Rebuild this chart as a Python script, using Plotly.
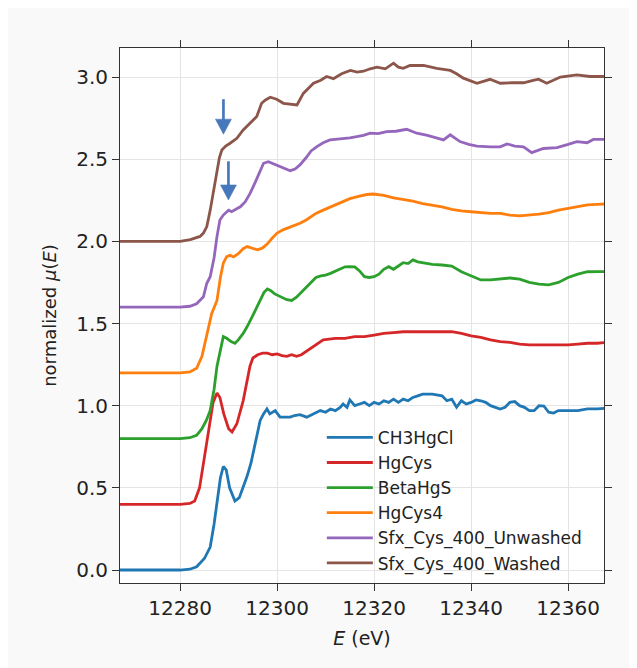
import plotly.graph_objects as go

# ---------------- data ----------------
names = ["CH3HgCl", "HgCys", "BetaHgS", "HgCys4", "Sfx_Cys_400_Unwashed", "Sfx_Cys_400_Washed"]
offsets = [0.0, 0.4, 0.8, 1.2, 1.6, 2.0]
colors = ["#1f77b4", "#d62728", "#2ca02c", "#ff7f0e", "#9467bd", "#8c564b"]

E_ch3 = [12267.5, 12280, 12282, 12283.4, 12285, 12286.2, 12287, 12287.6, 12288.3, 12288.9,
         12289.5, 12290.2, 12291.3, 12292.2, 12293, 12293.8, 12294.6, 12295.5, 12296.5, 12297.2,
         12297.9, 12298.5, 12299.6, 12300.6, 12302.7, 12303.6, 12304.7, 12306.1, 12307.5, 12308.9,
         12310, 12311, 12312, 12313, 12313.6, 12314.4, 12315, 12316, 12317, 12318,
         12319, 12320, 12321, 12322, 12323, 12324, 12325, 12326, 12327, 12328,
         12329, 12330, 12332, 12334, 12335, 12336, 12337, 12338, 12339, 12340,
         12341, 12342, 12343, 12344, 12345, 12346, 12347, 12348, 12349, 12350,
         12351, 12352, 12353, 12354, 12355, 12356, 12357, 12358, 12360, 12362,
         12364, 12366, 12368]
mu_ch3 = [0.0, 0.0, 0.005, 0.02, 0.07, 0.14, 0.28, 0.41, 0.56, 0.63,
          0.61, 0.5, 0.42, 0.44, 0.5, 0.57, 0.65, 0.78, 0.91, 0.95,
          0.98, 0.95, 0.97, 0.93, 0.93, 0.94, 0.945, 0.93, 0.95, 0.97,
          0.96, 0.98, 0.97, 0.99, 1.01, 0.99, 1.035, 1.0, 1.01, 1.02,
          1.0, 1.02, 1.01, 1.03, 1.02, 1.04, 1.02, 1.04, 1.03, 1.05,
          1.06, 1.07, 1.07, 1.06, 1.03, 1.04, 0.99, 1.03, 1.01, 1.02,
          1.035, 1.03, 1.02, 1.0, 0.99, 0.98, 0.99, 1.02, 1.025, 1.0,
          0.99, 0.97, 0.97, 1.0, 0.998, 0.96, 0.955, 0.97, 0.97, 0.97,
          0.98, 0.98, 0.985]

E_hgcys = [12267.5, 12280, 12282, 12283, 12284, 12285, 12286, 12286.8, 12287.6, 12288.2,
           12289, 12290, 12290.7, 12291.7, 12293, 12294.4, 12295, 12296, 12297, 12298,
           12299, 12300, 12301, 12302, 12303, 12304, 12305, 12306, 12307, 12308,
           12309.5, 12312, 12314, 12316, 12318, 12320, 12322, 12324, 12326, 12328,
           12330, 12332, 12334, 12336, 12338, 12340, 12342, 12344, 12346, 12348,
           12350, 12352, 12354, 12356, 12358, 12360, 12362, 12364, 12366, 12368]
mu_hgcys = [0.0, 0.0, 0.005, 0.02, 0.10, 0.28, 0.48, 0.62, 0.677, 0.65,
            0.55, 0.46, 0.44, 0.49, 0.63, 0.84, 0.89, 0.91, 0.92, 0.92,
            0.91, 0.915, 0.905, 0.90, 0.91, 0.90, 0.91, 0.93, 0.95, 0.97,
            1.0, 1.01, 1.01, 1.02, 1.02, 1.03, 1.04, 1.045, 1.05, 1.05,
            1.05, 1.05, 1.05, 1.05, 1.04, 1.025, 1.015, 1.0, 0.99, 0.985,
            0.975, 0.97, 0.97, 0.97, 0.97, 0.97, 0.975, 0.98, 0.98, 0.985]

E_beta = [12267.5, 12280, 12282, 12283.4, 12284.5, 12285.4, 12286.2, 12287, 12287.6, 12288.3,
          12288.9, 12289.6, 12290.5, 12291.3, 12292, 12293, 12293.8, 12295, 12296.5, 12297.3,
          12298, 12298.7, 12299.5, 12300.5, 12302, 12303, 12304, 12305, 12306, 12307,
          12308, 12309, 12310, 12311, 12312, 12313, 12314, 12315, 12316, 12317,
          12318, 12319, 12320, 12321, 12322, 12323, 12324, 12325, 12326, 12327,
          12328, 12329, 12330, 12332, 12334, 12336, 12338, 12340, 12342, 12344,
          12346, 12348, 12350, 12352, 12354, 12356, 12358, 12360, 12362, 12364,
          12366, 12368]
mu_beta = [0.0, 0.0, 0.005, 0.02, 0.06, 0.11, 0.17, 0.30, 0.44, 0.55,
           0.62, 0.61, 0.59, 0.58, 0.60, 0.64, 0.68, 0.75, 0.84, 0.89,
           0.91, 0.90, 0.88, 0.865, 0.845, 0.84, 0.86, 0.89, 0.92, 0.95,
           0.98, 0.99, 0.995, 1.005, 1.02, 1.03, 1.045, 1.046, 1.045, 1.02,
           0.985, 0.98, 0.985, 1.0, 1.03, 1.046, 1.03, 1.05, 1.07, 1.065,
           1.087, 1.075, 1.07, 1.06, 1.056, 1.05, 1.015, 0.99, 0.965, 0.965,
           0.97, 0.977, 0.97, 0.95, 0.94, 0.935, 0.95, 0.98, 1.0, 1.015,
           1.016, 1.015]

E_cys4 = [12267.5, 12280, 12282, 12283.4, 12284.5, 12285.5, 12286.5, 12287.6, 12288.3, 12288.9,
          12289.6, 12290.3, 12291, 12292, 12293, 12293.8, 12295, 12296, 12297, 12298,
          12299, 12300, 12301.2, 12303, 12304.7, 12306, 12308, 12309.5, 12311, 12313,
          12315, 12317, 12318.5, 12319.8, 12321, 12322, 12324, 12326, 12328, 12330,
          12332, 12334, 12336, 12338, 12340, 12342, 12344, 12346, 12348, 12350,
          12352, 12354, 12356, 12358, 12360, 12362, 12364, 12366, 12368]
mu_cys4 = [0.0, 0.0, 0.005, 0.028, 0.10, 0.24, 0.36, 0.44, 0.58, 0.667,
           0.707, 0.715, 0.705, 0.725, 0.755, 0.768, 0.755, 0.748, 0.76, 0.785,
           0.82, 0.85, 0.87, 0.89, 0.91, 0.93, 0.97, 0.99, 1.01, 1.035,
           1.06, 1.075, 1.085, 1.088, 1.085, 1.08, 1.065, 1.055, 1.045, 1.03,
           1.02, 1.01, 0.995, 0.985, 0.98, 0.975, 0.97, 0.97, 0.96, 0.955,
           0.96, 0.965, 0.975, 0.99, 1.0, 1.01, 1.022, 1.025, 1.028]

E_unw = [12267.5, 12280, 12282, 12283.4, 12284.8, 12285.5, 12286.2, 12287, 12287.6, 12288.2,
         12288.9, 12290, 12290.6, 12291.3, 12292.4, 12293.4, 12294.4, 12295.5, 12296.5, 12297.2,
         12298.2, 12299, 12299.9, 12301.3, 12302.7, 12303.7, 12304.7, 12306, 12307, 12308.2,
         12309.5, 12310.9, 12312, 12313.7, 12315, 12316.4, 12317.8, 12319.2, 12320.8, 12322.6,
         12324.5, 12326.7, 12328.8, 12331, 12333, 12334.3, 12335.7, 12337.7, 12339.5, 12341.2,
         12344, 12346, 12347.4, 12349, 12350.8, 12352.5, 12354.9, 12357.7, 12360, 12361.8,
         12363.9, 12365.2, 12367.5]
mu_unw = [0.0, 0.0, 0.005, 0.02, 0.063, 0.145, 0.185, 0.30, 0.43, 0.53,
          0.56, 0.59, 0.58, 0.59, 0.61, 0.64, 0.69, 0.76, 0.835, 0.875,
          0.885, 0.875, 0.86, 0.845, 0.83, 0.84, 0.865, 0.91, 0.95, 0.976,
          1.0, 1.017, 1.02, 1.027, 1.03, 1.037, 1.045, 1.058, 1.055, 1.068,
          1.07, 1.082, 1.058, 1.045, 1.03, 1.017, 1.048, 1.007, 0.99, 0.98,
          0.975, 0.975, 0.993, 0.98, 0.975, 0.94, 0.965, 0.97, 0.99, 1.007,
          1.0, 1.02, 1.02]

E_wash = [12267.5, 12280, 12282.1, 12284.1, 12284.8, 12285.5, 12286.2, 12286.9, 12287.6, 12288.1,
          12288.6, 12289.4, 12290.3, 12291.7, 12293, 12294.4, 12295.8, 12296.8, 12297.6, 12298.6,
          12299.9, 12301.3, 12302.7, 12304.1, 12305.4, 12306.5, 12307.5, 12309, 12310.2, 12311.6,
          12313.3, 12315.1, 12316.5, 12317.8, 12319.2, 12320.6, 12322.3, 12324, 12325, 12326,
          12327.4, 12330.2, 12332.9, 12335.7, 12337, 12338.4, 12341.2, 12343.9, 12346, 12348.5,
          12350.8, 12352.8, 12353.9, 12355.6, 12358.4, 12361.8, 12364.5, 12367.5]
mu_wash = [0.0, 0.0, 0.01, 0.03, 0.05, 0.09, 0.19, 0.31, 0.435, 0.51,
           0.556, 0.58, 0.597, 0.627, 0.678, 0.72, 0.76, 0.84, 0.86, 0.877,
           0.865, 0.84, 0.835, 0.83, 0.90, 0.93, 0.962, 0.98, 1.003, 0.99,
           1.02, 1.04, 1.03, 1.035, 1.05, 1.06, 1.05, 1.084, 1.06, 1.053,
           1.07, 1.07, 1.053, 1.04, 1.02, 0.993, 0.962, 0.986, 0.962, 0.965,
           0.965, 0.98, 0.987, 0.962, 1.0, 1.013, 1.003, 1.003]

energies = [E_ch3, E_hgcys, E_beta, E_cys4, E_unw, E_wash]
spectra = [mu_ch3, mu_hgcys, mu_beta, mu_cys4, mu_unw, mu_wash]

x_ticks = [12280, 12300, 12320, 12340, 12360]
y_ticks = [0.0, 0.5, 1.0, 1.5, 2.0, 2.5, 3.0]
y_tick_labels = ["0.0", "0.5", "1.0", "1.5", "2.0", "2.5", "3.0"]

# arrow annotations: (energy, tail value, tip value)
arrows = [(12288.93, 2.865, 2.652), (12289.96, 2.487, 2.252)]

# ---------------- layout geometry ----------------
# the page body adds an 8 px offset, so the figure is slightly smaller than the window
W, H = 629, 660
ML, MR, MT, MB = 112, 33, 40, 85
XR = [12267.6, 12367.4]
YR = [-0.079, 3.1765]
PW, PH = W - ML - MR, H - MT - MB
px_x = PW / (XR[1] - XR[0])
px_y = PH / (YR[1] - YR[0])

FONT = "DejaVu Sans"
ARROW_COLOR = "#4778bb"
AXIS_COLOR = "#333333"

fig = go.Figure()
for name, E, mu, off, col in zip(names, energies, spectra, offsets, colors):
    assert len(E) == len(mu), name
    fig.add_trace(go.Scatter(
        x=E, y=[v + off for v in mu], mode="lines", name=name,
        line=dict(color=col, width=2.8),
    ))

shapes = []
head_hw = 8 / px_x       # half width of head (data units)
head_len = 15 / px_y     # head length (data units)
for e, tail, tip in arrows:
    shapes.append(dict(type="line", xref="x", yref="y", x0=e, x1=e, y0=tail, y1=tip + head_len * 0.9,
                       line=dict(color=ARROW_COLOR, width=2.7), layer="above"))
    shapes.append(dict(type="path", xref="x", yref="y",
                       path=f"M {e - head_hw},{tip + head_len} L {e + head_hw},{tip + head_len} L {e},{tip} Z",
                       fillcolor=ARROW_COLOR, line=dict(color=ARROW_COLOR, width=0.5), layer="above"))

axis_common = dict(
    showline=True, linecolor=AXIS_COLOR, linewidth=1, mirror="ticks",
    ticks="outside", ticklen=7, tickwidth=1, tickcolor=AXIS_COLOR,
    showgrid=True, gridcolor="#e4e4e4", gridwidth=1, zeroline=False,
    tickfont=dict(family=FONT, size=20, color="#222222"),
)

fig.update_layout(
    width=W, height=H,
    margin=dict(l=ML, r=MR, t=MT, b=MB),
    paper_bgcolor="#f9f9f9", plot_bgcolor="white",
    font=dict(family=FONT, size=19, color="#222222"),
    xaxis=dict(range=XR, tickvals=x_ticks, ticktext=[str(t) for t in x_ticks],
               title=dict(text="<i>E</i> (eV)", font=dict(family=FONT, size=19), standoff=12),
               **axis_common),
    yaxis=dict(range=YR, tickvals=y_ticks, ticktext=y_tick_labels,
               title=dict(text="normalized <i>μ</i>(<i>E</i>)", font=dict(family=FONT, size=18), standoff=14),
               **axis_common),
    legend=dict(x=0.417, y=0.305, xanchor="left", yanchor="top",
                bgcolor="rgba(0,0,0,0)", borderwidth=0,
                font=dict(family=FONT, size=17, color="#222222"),
                tracegroupgap=0, itemwidth=46),
    shapes=shapes,
    showlegend=True,
)

fig.write_html("out.html")
